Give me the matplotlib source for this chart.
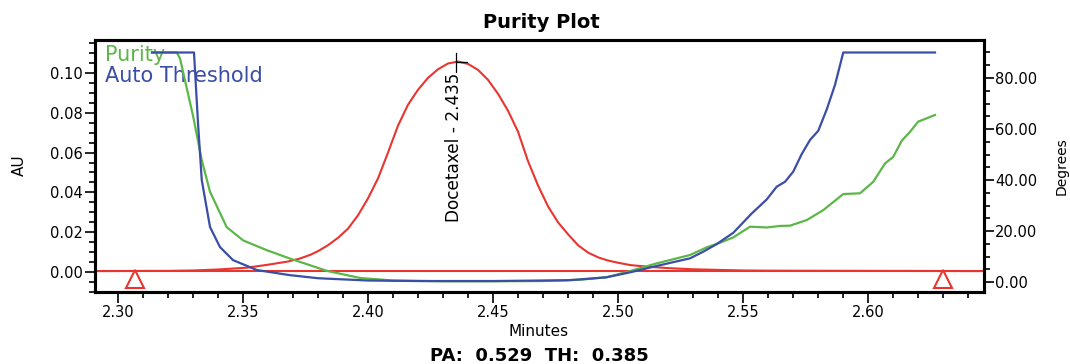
import matplotlib
matplotlib.use("Agg")
import matplotlib.pyplot as plt
from matplotlib.ticker import MultipleLocator, FormatStrFormatter

# ---- data ----
# chromatogram (AU)
red_x = [2.2908, 2.320, 2.330, 2.340, 2.3515, 2.360, 2.3680, 2.3728, 2.3770, 2.380,
         2.384, 2.388, 2.392, 2.396, 2.400, 2.404, 2.408, 2.412, 2.416, 2.420,
         2.424, 2.428, 2.432, 2.436, 2.440, 2.444, 2.448, 2.452, 2.456, 2.460,
         2.464, 2.468, 2.472, 2.476, 2.480, 2.484, 2.488, 2.492, 2.496, 2.500,
         2.505, 2.512, 2.520, 2.530, 2.540, 2.550, 2.560, 2.6464]
red_au = [0.0005, 0.0006, 0.0008, 0.0013, 0.0022, 0.0037, 0.0053, 0.0068, 0.0087, 0.0105,
          0.0135, 0.0172, 0.0218, 0.0285, 0.0370, 0.0470, 0.0600, 0.0735, 0.0840, 0.0915,
          0.0975, 0.1018, 0.1047, 0.1057, 0.1045, 0.1015, 0.0965, 0.0895, 0.0810, 0.0705,
          0.0557, 0.0435, 0.0330, 0.0250, 0.0190, 0.0135, 0.0098, 0.0074, 0.0058, 0.0047,
          0.0035, 0.0027, 0.0020, 0.0014, 0.0011, 0.0008, 0.0007, 0.0005]
baseline_x = [2.2908, 2.6464]
baseline_au = [0.0006, 0.0006]
marker_x = [2.3068, 2.6301]
marker_au = [-0.0035, -0.0035]

# Purity angle (degrees)
purity_x = [2.3136, 2.3235, 2.3248, 2.3301, 2.3335, 2.3368, 2.3435, 2.3501, 2.3595, 2.3688,
            2.3835, 2.3968, 2.410, 2.430, 2.450, 2.470, 2.485, 2.4960, 2.5048, 2.5150,
            2.5288, 2.5355, 2.5408, 2.5461, 2.5528, 2.5595, 2.5648, 2.5688, 2.5755, 2.5821,
            2.5901, 2.5968, 2.6021, 2.6068, 2.6101, 2.6135, 2.6168, 2.6201, 2.6268]
purity_deg = [90.0, 90.0, 87.7, 64.8, 47.8, 35.4, 21.5, 16.3, 12.5, 9.2,
              4.4, 1.6, 0.6, 0.3, 0.3, 0.4, 0.9, 2.0, 4.3, 7.2,
              10.6, 13.6, 15.4, 17.5, 21.7, 21.4, 22.0, 22.1, 24.3, 28.2,
              34.5, 34.8, 39.3, 46.5, 49.1, 55.4, 58.9, 62.9, 65.5]

# Auto threshold (degrees)
thresh_x = [2.3136, 2.3304, 2.3320, 2.3335, 2.3368, 2.3408, 2.3460, 2.3556, 2.3688, 2.380,
            2.400, 2.420, 2.450, 2.480, 2.4950, 2.5048, 2.5150, 2.5288, 2.5341, 2.5395,
            2.5461, 2.5535, 2.5595, 2.5635, 2.5668, 2.5701, 2.5735, 2.5768, 2.5801, 2.5835,
            2.5868, 2.5901, 2.6268]
thresh_deg = [90.0, 90.0, 62.4, 40.0, 21.6, 13.7, 8.6, 4.7, 2.7, 1.5,
              0.6, 0.4, 0.4, 0.7, 1.8, 3.8, 6.2, 9.3, 11.9, 14.9,
              19.3, 26.9, 32.4, 37.4, 39.3, 43.3, 50.2, 55.7, 59.3, 67.7,
              77.3, 90.0, 90.0]

peak_name = "Docetaxel - 2.435"
peak_rt = 2.435

RED = "#e8352f"
GREEN = "#5cb648"
BLUE = "#3b4ea6"

fig = plt.figure(figsize=(10.7, 3.64), dpi=100)
ax = fig.add_axes([95/1070, 1-292/364, (984-95)/1070, (292-40)/364])
ax2 = ax.twinx()

ax.plot(baseline_x, baseline_au, color=RED, lw=1.5)
ax.plot(red_x, red_au, color=RED, lw=1.5, solid_joinstyle="round")
ax.plot(marker_x, marker_au, linestyle="none", marker="^", markersize=13,
        markerfacecolor="white", markeredgecolor=RED, markeredgewidth=1.5)

ax2.plot(purity_x, purity_deg, color=GREEN, lw=1.6, solid_joinstyle="round")
ax2.plot(thresh_x, thresh_deg, color=BLUE, lw=1.6, solid_joinstyle="round")

# peak label
ax.plot([peak_rt, peak_rt], [0.1100, 0.1003], color="black", lw=0.9)
ax.plot([peak_rt, peak_rt + 0.0045], [0.1057, 0.1057], color="black", lw=0.9)
ax.text(peak_rt - 0.0006, 0.1000, peak_name, rotation=90, ha="center", va="top",
        fontsize=12.2, color="black")

ax.set_xlim(2.2908, 2.6464)
ax.set_ylim(-0.010, 0.1165)
ax2.set_ylim(-3.9, 94.9)

ax.xaxis.set_major_locator(MultipleLocator(0.05))
ax.xaxis.set_minor_locator(MultipleLocator(0.01))
ax.xaxis.set_major_formatter(FormatStrFormatter("%.2f"))
ax.yaxis.set_major_locator(MultipleLocator(0.02))
ax.yaxis.set_minor_locator(MultipleLocator(0.005))
ax.yaxis.set_major_formatter(FormatStrFormatter("%.2f"))
ax2.yaxis.set_major_locator(MultipleLocator(20))
ax2.yaxis.set_minor_locator(MultipleLocator(5))
ax2.yaxis.set_major_formatter(FormatStrFormatter("%.2f"))

for a in (ax, ax2):
    for s in a.spines.values():
        s.set_linewidth(2.2)
        s.set_color("black")
ax.tick_params(axis="both", which="major", length=7.5, width=1.2, labelsize=10.5, pad=1.5)
ax.tick_params(axis="both", which="minor", length=4, width=1.2)
ax.tick_params(axis="x", which="major", length=8)
ax2.tick_params(axis="y", which="major", length=7.5, width=1.2, labelsize=10.5, pad=0.5)
ax2.tick_params(axis="y", which="minor", length=4, width=1.2)

# legend-like labels
ax.text(0.0112, 0.9167, "Purity", transform=ax.transAxes, color=GREEN, fontsize=15, va="baseline")
ax.text(0.0112, 0.8345, "Auto Threshold", transform=ax.transAxes, color=BLUE, fontsize=15, va="baseline")

fig.text(541/1070, 1-28.3/364, "Purity Plot", ha="center", va="baseline", fontsize=14, fontweight="bold")
fig.text(539/1070, 1-336/364, "Minutes", ha="center", va="baseline", fontsize=11)
fig.text(539/1070, 1-361/364, "PA:  0.529  TH:  0.385", ha="center", va="baseline", fontsize=13, fontweight="bold")
fig.text(19/1070, 1-165/364, "AU", ha="center", va="center", rotation=90, fontsize=11)
fig.text(1062/1070, 1-166/364, "Degrees", ha="center", va="center", rotation=90, fontsize=10)

fig.savefig("out.png", dpi=100, facecolor="white")
